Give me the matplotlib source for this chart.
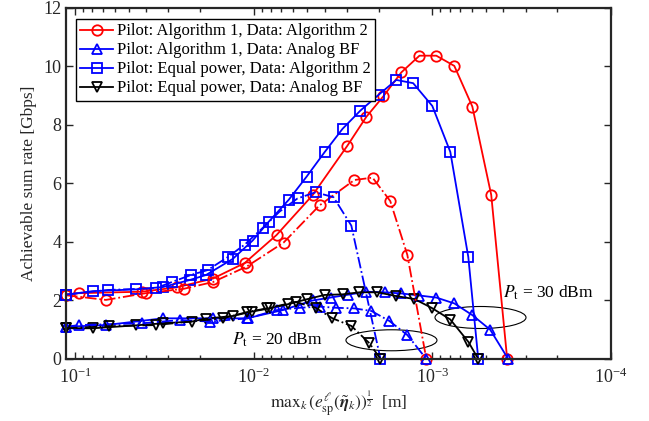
import matplotlib
matplotlib.use("Agg")
import matplotlib.pyplot as plt
from matplotlib.patches import Ellipse
from matplotlib.ticker import LogLocator, NullFormatter

plt.rcParams['font.family'] = ['Liberation Serif', 'DejaVu Serif']
plt.rcParams['mathtext.fontset'] = 'stix'

# ---- data ----
x_a1_alg2_30 = [0.1123, 0.0950, 0.0422, 0.0269, 0.0169, 0.01123, 0.00744, 0.00468, 0.00299,
                0.00234, 0.00188, 0.00149, 0.00118, 0.00095, 0.000753, 0.000597, 0.000468, 0.000381]
y_a1_alg2_30 = [2.2, 2.25, 2.3, 2.45, 2.75, 3.28, 4.24, 5.6, 7.29, 8.28, 8.98, 9.8, 10.37, 10.37,
                10.02, 8.63, 5.61, 0.0]

x_a1_alg2_20 = [0.1123, 0.0671, 0.0401, 0.0246, 0.0169, 0.01094, 0.0068, 0.00428, 0.00273,
                0.00216, 0.00172, 0.00138, 0.00108]
y_a1_alg2_20 = [2.18, 2.02, 2.25, 2.4, 2.63, 3.16, 3.98, 5.25, 6.12, 6.2, 5.4, 3.56, 0.0]

x_a1_abf_30 = [0.1123, 0.0671, 0.0322, 0.0169, 0.01094, 0.00689, 0.00468, 0.00371, 0.00295,
               0.00234, 0.00185, 0.00149, 0.00118, 0.00095, 0.000753, 0.000597, 0.000474, 0.000376]
y_a1_abf_30 = [1.1, 1.16, 1.39, 1.39, 1.39, 1.67, 2.0, 2.1, 2.2, 2.3, 2.28, 2.24, 2.17, 2.1,
               1.9, 1.5, 1.0, 0.0]

x_a1_abf_20 = [0.1123, 0.0950, 0.0422, 0.0259, 0.0176, 0.0108, 0.00744, 0.00553, 0.00428,
               0.00344, 0.00273, 0.00219, 0.00174, 0.00138, 0.00108]
y_a1_abf_20 = [1.1, 1.16, 1.22, 1.33, 1.28, 1.39, 1.67, 1.75, 1.79, 1.75, 1.73, 1.64, 1.3, 0.82, 0.0]

x_ep_alg2_30 = [0.1123, 0.0793, 0.0456, 0.0322, 0.0228, 0.0185, 0.0131, 0.01013, 0.008245,
                0.00637, 0.00506, 0.00401, 0.00318, 0.00253, 0.00200, 0.00159, 0.00128, 0.00100,
                0.000793, 0.000629, 0.000553]
y_ep_alg2_30 = [2.2, 2.32, 2.38, 2.46, 2.7, 2.87, 3.42, 4.05, 4.69, 5.44, 6.23, 7.07, 7.87, 8.49,
                9.03, 9.54, 9.43, 8.65, 7.08, 3.49, 0.0]

x_ep_alg2_20 = [0.1123, 0.0654, 0.0353, 0.0287, 0.0225, 0.0181, 0.0140, 0.01123, 0.008906,
                0.007157, 0.00568, 0.0045, 0.00357, 0.00284, 0.00195]
y_ep_alg2_20 = [2.2, 2.36, 2.42, 2.63, 2.87, 3.04, 3.48, 3.91, 4.48, 5.04, 5.49, 5.7, 5.53, 4.56, 0.0]

x_ep_abf_30 = [0.1123, 0.0793, 0.0456, 0.0322, 0.0222, 0.0185, 0.0131, 0.01026, 0.00814, 0.00646,
               0.00506, 0.00401, 0.00318, 0.00256, 0.00203, 0.00159, 0.00126, 0.00101, 0.000793,
               0.000629, 0.000553]
y_ep_abf_30 = [1.05, 1.05, 1.15, 1.22, 1.28, 1.38, 1.47, 1.62, 1.73, 1.87, 2.04, 2.19, 2.21, 2.28,
               2.28, 2.15, 2.05, 1.75, 1.35, 0.59, 0.0]

x_ep_abf_20 = [0.1123, 0.0646, 0.0353, 0.0149, 0.01094, 0.00846, 0.00583, 0.0045, 0.00362,
               0.00284, 0.00225, 0.00195]
y_ep_abf_20 = [1.05, 1.12, 1.16, 1.39, 1.6, 1.73, 1.95, 1.75, 1.39, 1.13, 0.54, 0.0]

labels = ['Pilot: Algorithm 1, Data: Algorithm 2',
          'Pilot: Algorithm 1, Data: Analog BF',
          'Pilot: Equal power, Data: Algorithm 2',
          'Pilot: Equal power, Data: Analog BF']

# ---- figure ----
fig = plt.figure(figsize=(6.49, 4.21), dpi=100)
ax = fig.add_axes([0.1017, 0.1473, 0.8397, 0.8337])

axc = '#262626'
ms = 7.5
mew = 1.3
lw = 1.3
common = dict(markerfacecolor='none', markeredgewidth=mew, linewidth=lw, clip_on=False)

series = [
    (x_a1_alg2_30, y_a1_alg2_30, 'red', 'o', '-', labels[0]),
    (x_a1_abf_30, y_a1_abf_30, 'blue', '^', '-', labels[1]),
    (x_ep_alg2_30, y_ep_alg2_30, 'blue', 's', '-', labels[2]),
    (x_ep_abf_30, y_ep_abf_30, 'black', 'v', '-', labels[3]),
    (x_a1_alg2_20, y_a1_alg2_20, 'red', 'o', '-.', None),
    (x_a1_abf_20, y_a1_abf_20, 'blue', '^', '-.', None),
    (x_ep_alg2_20, y_ep_alg2_20, 'blue', 's', '-.', None),
    (x_ep_abf_20, y_ep_abf_20, 'black', 'v', '-.', None),
]
handles = []
for xs, ys, c, m, ls, lab in series:
    msz = ms - 1 if m == 's' else ms
    h, = ax.plot(xs, ys, color=c, marker=m, linestyle=ls, markeredgecolor=c,
                 markersize=msz, **common)
    if lab:
        handles.append((h, lab))

ax.set_xscale('log')
ax.set_xlim(0.1123, 1e-4)
ax.set_ylim(0, 12)
ax.set_yticks([0, 2, 4, 6, 8, 10, 12])
ax.xaxis.set_major_locator(LogLocator(base=10, numticks=10))
ax.xaxis.set_minor_locator(LogLocator(base=10, subs=range(2, 10), numticks=50))
ax.xaxis.set_minor_formatter(NullFormatter())

ax.tick_params(which='both', direction='in', top=True, right=True, colors=axc, labelsize=13,
               width=1.0)
ax.tick_params(which='major', length=5)
ax.tick_params(which='minor', length=3)
ax.tick_params(axis='x', which='major', pad=6)
for s in ax.spines.values():
    s.set_color(axc)
    s.set_linewidth(1.6)

ax.set_ylabel('Achievable sum rate [Gbps]', fontsize=12.5, color=axc, labelpad=4)
ax.set_xlabel(r'$\mathrm{max}_k\,(e^{\ell}_{\mathrm{sp}}(\tilde{\mathbfit{\eta}}_k))^{\frac{1}{2}}$  [m]',
              fontsize=12.5, color=axc, labelpad=2)

leg = ax.legend([h for h, _ in handles], [l for _, l in handles], loc='upper left',
                bbox_to_anchor=(0.018, 0.968), borderaxespad=0, fontsize=12,
                fancybox=False, framealpha=1, edgecolor='black', labelspacing=0.18,
                handlelength=2.0, handletextpad=0.2, borderpad=0.25)
leg.get_frame().set_linewidth(1.0)

# annotations
ax.add_patch(Ellipse((0.7606, 0.1182), 0.167, 0.0627, transform=ax.transAxes,
                     fill=False, edgecolor='black', linewidth=0.8))
ax.add_patch(Ellipse((0.5972, 0.0533), 0.167, 0.0598, transform=ax.transAxes,
                     fill=False, edgecolor='black', linewidth=0.8))
ax.text(0.4e-3, 2.25, r'$P_{\mathrm{t}}$ = 30 dBm', fontsize=12.5, va='center', ha='left')
ax.text(0.01327, 0.65, r'$P_{\mathrm{t}}$ = 20 dBm', fontsize=12.5, va='center', ha='left')

fig.savefig('out.png', dpi=100)
